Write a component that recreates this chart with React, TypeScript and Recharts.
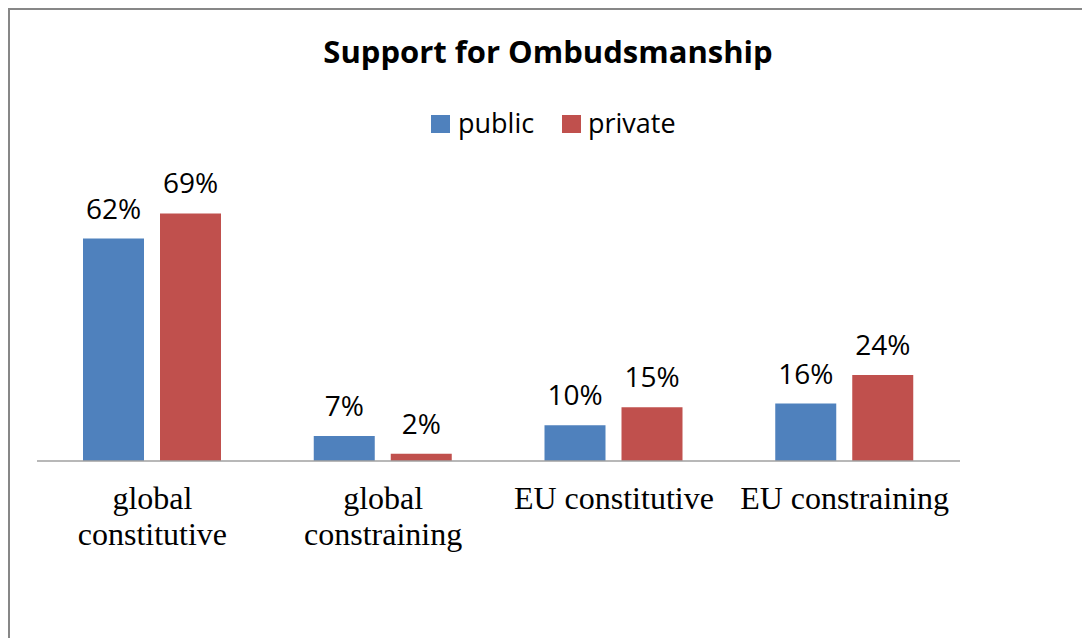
import React from 'react';
import { BarChart, Bar, XAxis, YAxis, LabelList } from 'recharts';

const categories = ['global constitutive', 'global constraining', 'EU constitutive', 'EU constraining'];
const publicValues = [62, 7, 10, 16];
const privateValues = [69, 2, 15, 24];
const seriesNames = ['public', 'private'];
const seriesColors = ['#4F81BD', '#C0504D'];
const title = 'Support for Ombudsmanship';

const data = categories.map((c, i) => ({
  category: c,
  public: publicValues[i],
  private: privateValues[i],
}));

const SANS = '"Open Sans", "DejaVu Sans", sans-serif';
const SERIF = '"Liberation Serif", "Times New Roman", serif';

let measureCtx: CanvasRenderingContext2D | null = null;
function measure(text: string, font: string): number {
  if (!measureCtx) {
    const c = document.createElement('canvas');
    measureCtx = c.getContext('2d');
  }
  if (!measureCtx) return text.length * 14;
  measureCtx.font = font;
  return measureCtx.measureText(text).width;
}

function wrap(text: string, maxWidth: number, font: string): string[] {
  const words = text.split(' ');
  const lines: string[] = [];
  let cur = '';
  for (const w of words) {
    const cand = cur ? `${cur} ${w}` : w;
    if (cur && measure(cand, font) > maxWidth) {
      lines.push(cur);
      cur = w;
    } else {
      cur = cand;
    }
  }
  if (cur) lines.push(cur);
  return lines;
}

const CategoryTick = (props: any) => {
  const { x, y, payload } = props;
  const font = `32px "Liberation Serif"`;
  const lines = wrap(String(payload.value), 214, font);
  return (
    <text
      x={x}
      y={y + 40}
      textAnchor="middle"
      fill="#000"
      style={{ fontFamily: SERIF, fontSize: 32 }}
    >
      {lines.map((l, i) => (
        <tspan key={i} x={x} dy={i === 0 ? 0 : 36}>
          {l}
        </tspan>
      ))}
    </text>
  );
};

const ValueLabel = (props: any) => {
  const { x, y, width, value } = props;
  return (
    <text
      x={x + width / 2}
      y={y - 20}
      textAnchor="middle"
      fill="#000"
      style={{ fontFamily: SANS, fontSize: 28 }}
    >
      {`${value}%`}
    </text>
  );
};

export default function App() {
  return (
    <div
      style={{
        position: 'fixed',
        left: 8,
        top: 8,
        width: 1100,
        height: 660,
        borderTop: '2px solid #878787',
        borderLeft: '2px solid #878787',
        background: '#fff',
      }}
    >
      <BarChart
        width={1072}
        height={628}
        data={data}
        margin={{ top: 164, right: 122, bottom: 77, left: 27 }}
        barGap={16}
      >
        <XAxis
          dataKey="category"
          height={100}
          axisLine={{ stroke: '#A0A0A0', strokeWidth: 1.5 }}
          tickLine={false}
          interval={0}
          tick={<CategoryTick />}
        />
        <YAxis hide domain={[0, 80]} />
        <Bar dataKey="public" name={seriesNames[0]} fill={seriesColors[0]} barSize={61} isAnimationActive={false}>
          <LabelList dataKey="public" content={<ValueLabel />} />
        </Bar>
        <Bar dataKey="private" name={seriesNames[1]} fill={seriesColors[1]} barSize={61} isAnimationActive={false}>
          <LabelList dataKey="private" content={<ValueLabel />} />
        </Bar>
      </BarChart>
      <svg
        width={1072}
        height={200}
        style={{ position: 'absolute', left: 0, top: 0, pointerEvents: 'none' }}
      >
        <text
          x={538}
          y={53}
          textAnchor="middle"
          fill="#000"
          style={{ fontFamily: SANS, fontSize: 31, fontWeight: 700 }}
        >
          {title}
        </text>
        <rect x={421} y={105} width={19} height={18} fill={seriesColors[0]} />
        <text x={448} y={123} fill="#000" style={{ fontFamily: SANS, fontSize: 27 }}>
          {seriesNames[0]}
        </text>
        <rect x={552} y={105} width={19} height={18} fill={seriesColors[1]} />
        <text x={578} y={123} fill="#000" style={{ fontFamily: SANS, fontSize: 27 }}>
          {seriesNames[1]}
        </text>
      </svg>
    </div>
  );
}
